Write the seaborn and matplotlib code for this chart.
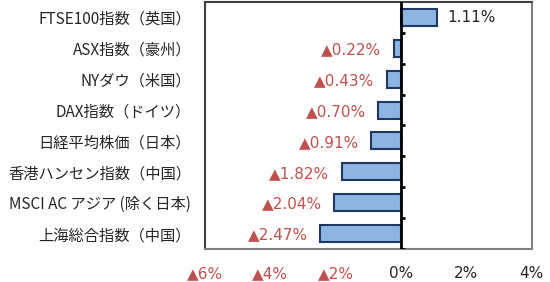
import matplotlib
matplotlib.use("Agg")
import matplotlib.pyplot as plt
import seaborn as sns
import pandas as pd
import numpy as np

categories = ["FTSE100指数（英国）", "ASX指数（豪州）", "NYダウ（米国）", "DAX指数（ドイツ）",
              "日経平均株価（日本）", "香港ハンセン指数（中国）", "MSCI AC アジア (除く日本)", "上海総合指数（中国）"]
values = [1.11, -0.22, -0.43, -0.70, -0.91, -1.82, -2.04, -2.47]
xticks = [-6, -4, -2, 0, 2, 4]
xtick_labels = ["▲6%", "▲4%", "▲2%", "0%", "2%", "4%"]

sns.set_theme(style="white")
plt.rcParams['font.family'] = ['Noto Sans CJK JP', 'DejaVu Sans']

df = pd.DataFrame({"cat": categories, "val": values})

fig = plt.figure(figsize=(5.5, 2.82), dpi=100)
ax = fig.add_axes([0.3727, 0.117, 0.967 - 0.3727, 0.993 - 0.117])

sns.barplot(data=df, x="val", y="cat", orient="h", color="#8DB4E2", width=0.55,
            edgecolor="#1F3864", linewidth=1.5, saturation=1, ax=ax)

ax.set_xlim(-6, 4)
ax.set_ylim(len(categories) - 0.5, -0.5)
ax.set_xlabel("")
ax.set_ylabel("")

red = "#C0504D"
numfont = ['DejaVu Sans']
for i, v in enumerate(values):
    if v >= 0:
        ax.annotate(f"{v:.2f}%", xy=(v, i), xytext=(7, 0), textcoords="offset points",
                    ha="left", va="center", fontsize=11, color="#262626", family=numfont)
    else:
        ax.annotate(f"▲{abs(v):.2f}%", xy=(v, i), xytext=(-9, -1), textcoords="offset points",
                    ha="right", va="center", fontsize=11, color=red, family=numfont)

ax.axvline(0, color="black", lw=2, zorder=5)
bounds = np.arange(len(categories)) + 0.5
ax.hlines(bounds, 0, 0.12, color="black", lw=2, zorder=5)

ax.set_xticks(xticks)
ax.set_xticklabels(xtick_labels, fontsize=11, family=numfont)
for t, v in zip(ax.get_xticklabels(), xticks):
    t.set_color(red if v < 0 else "#262626")
ax.tick_params(axis="x", length=0, pad=12)
ax.tick_params(axis="y", length=0, pad=10, labelsize=11, labelcolor="#262626")

for s in ["top", "left"]:
    ax.spines[s].set_color("#404040")
    ax.spines[s].set_linewidth(1.5)
for s in ["right", "bottom"]:
    ax.spines[s].set_color("#808080")
    ax.spines[s].set_linewidth(1.5)

fig.savefig("out.png", dpi=100)
